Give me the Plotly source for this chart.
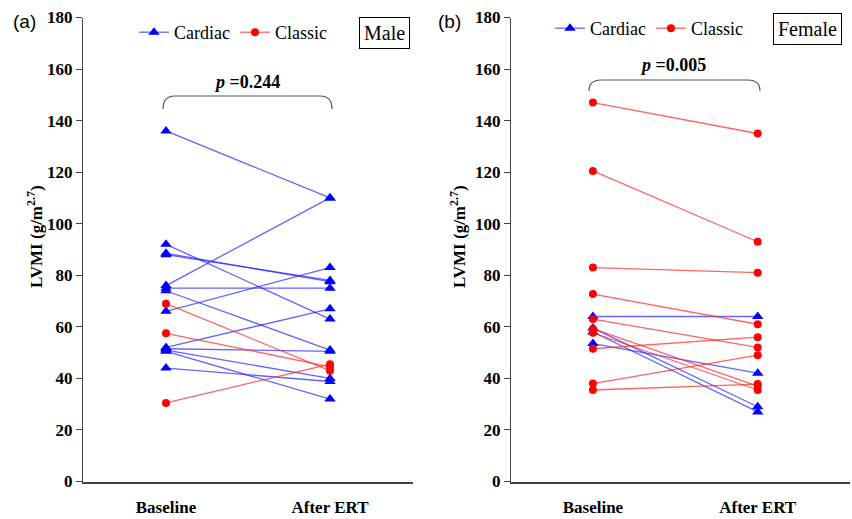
import plotly.graph_objects as go

W, H = 852, 519

stages = ["Baseline", "After ERT"]
y_ticks = [0, 20, 40, 60, 80, 100, 120, 140, 160, 180]

# Panel (a) Male
male_cardiac_baseline = [136, 92, 88.5, 88, 76, 75, 74, 66, 52, 51.5, 51, 50.5, 44]
male_cardiac_after    = [110, 63, 77.5, 78, 110, 75, 51, 83, 67, 50.5, 40, 32, 38.8]
male_classic_baseline = [69, 57.5, 30.5]
male_classic_after    = [43, 44.5, 45.5]

# Panel (b) Female
female_cardiac_baseline = [64, 59.5, 58, 53.5]
female_cardiac_after    = [64, 29, 27, 42]
female_classic_baseline = [147, 120.5, 83, 72.7, 63, 59.3, 57.7, 51.5, 38, 35.5]
female_classic_after    = [135, 93, 81, 61, 52, 37, 35.5, 56, 49, 37.8]

p_male = "0.244"
p_female = "0.005"

SERIF = "Liberation Serif, Times New Roman, serif"
SANS = "Liberation Sans, Arial, sans-serif"
BLUE_LINE = "rgba(40,40,255,0.72)"
RED_LINE = "rgba(255,40,40,0.72)"


def pairs(base, after):
    xs, ys = [], []
    for b, a in zip(base, after):
        xs += [stages[0], stages[1], None]
        ys += [b, a, None]
    return xs, ys


def X(px):
    return px / W


def Y(py):
    return 1 - py / H


fig = go.Figure()

for (cb, ca, rb, ra, xa, ya, lg) in [
    (male_cardiac_baseline, male_cardiac_after, male_classic_baseline, male_classic_after, "x", "y", "legend"),
    (female_cardiac_baseline, female_cardiac_after, female_classic_baseline, female_classic_after, "x2", "y2", "legend2"),
]:
    xs, ys = pairs(cb, ca)
    fig.add_trace(go.Scatter(
        x=xs, y=ys, mode="lines+markers", name="Cardiac",
        line=dict(color=BLUE_LINE, width=1.3),
        marker=dict(symbol="triangle-up", size=10, color="#0000ff"),
        xaxis=xa, yaxis=ya, legend=lg, connectgaps=False))
    xs, ys = pairs(rb, ra)
    fig.add_trace(go.Scatter(
        x=xs, y=ys, mode="lines+markers", name="Classic",
        line=dict(color=RED_LINE, width=1.3),
        marker=dict(symbol="circle", size=8, color="#ff0000"),
        xaxis=xa, yaxis=ya, legend=lg, connectgaps=False))

ydom = [Y(481.5), Y(17.5)]

xcommon = dict(type="category", categoryarray=stages, showline=True, linecolor="#444",
               linewidth=1.5, ticks="", showgrid=False, zeroline=False, automargin=False,
               tickfont=dict(family=SERIF, size=17, color="black", weight="bold"),
               ticklabelstandoff=9)
ycommon = dict(range=[0, 180], tickvals=y_ticks, ticks="outside", ticklen=6, tickcolor="#444",
               showline=True, linecolor="#444", linewidth=1.2, showgrid=False, zeroline=False,
               automargin=False,
               tickfont=dict(family=SERIF, size=17, color="black", weight="bold"), domain=ydom)

fig.update_layout(
    width=W, height=H,
    margin=dict(l=0, r=0, t=0, b=0, autoexpand=False),
    font=dict(family=SERIF, color="black"),
    paper_bgcolor="white", plot_bgcolor="white",
    xaxis=dict(domain=[X(83), X(413)], range=[-0.506, 1.506], anchor="y", **xcommon),
    xaxis2=dict(domain=[X(511), X(850)], range=[-0.497, 1.56], anchor="y2", **xcommon),
    yaxis=dict(anchor="x", **ycommon),
    yaxis2=dict(anchor="x2", **ycommon),
    legend=dict(orientation="h", x=X(134), y=Y(14), xanchor="left", yanchor="top",
                font=dict(family=SERIF, size=18, color="black"), bgcolor="rgba(0,0,0,0)",
                itemwidth=30, tracegroupgap=0),
    legend2=dict(orientation="h", x=X(550), y=Y(10), xanchor="left", yanchor="top",
                 font=dict(family=SERIF, size=18, color="black"), bgcolor="rgba(0,0,0,0)",
                 itemwidth=30, tracegroupgap=0),
    showlegend=True,
)

ann = []


def add_text(text, px, py, font, **kw):
    ann.append(dict(text=text, x=X(px), y=Y(py), xref="paper", yref="paper", showarrow=False,
                    xanchor="center", yanchor="middle", font=font, **kw))


add_text("(a)", 24, 22, dict(family=SANS, size=19, color="black"))
add_text("(b)", 450, 21, dict(family=SANS, size=19, color="black"))
add_text("Male", 384, 33, dict(family=SERIF, size=20, color="black"),
         bordercolor="black", borderwidth=1, borderpad=4)
add_text("Female", 807, 29, dict(family=SERIF, size=20, color="black"),
         bordercolor="black", borderwidth=1, borderpad=4)
add_text("<i>p</i> =" + p_male, 247, 82, dict(family=SERIF, size=18, color="black", weight="bold"))
add_text("<i>p</i> =" + p_female, 673, 65, dict(family=SERIF, size=18, color="black", weight="bold"))
for xp in (35, 458):
    add_text("LVMI (g/m<sup>2.7</sup>)", xp, 237,
             dict(family=SERIF, size=17, color="black", weight="bold"), textangle=-90)
fig.update_layout(annotations=ann)


def bracket(x0, x1, ytop, yend, r=12):
    return (f"M {X(x0)},{Y(yend)} Q {X(x0)},{Y(ytop)} {X(x0 + r)},{Y(ytop)} "
            f"L {X(x1 - r)},{Y(ytop)} Q {X(x1)},{Y(ytop)} {X(x1)},{Y(yend)}")


fig.update_layout(shapes=[
    dict(type="path", path=bracket(163, 332, 96, 109), xref="paper", yref="paper",
         line=dict(color="#555", width=1.2)),
    dict(type="path", path=bracket(589, 760, 80, 91), xref="paper", yref="paper",
         line=dict(color="#555", width=1.2)),
])

fig.write_html("out.html", config={"displayModeBar": False},
               post_script="document.body.style.margin='0px';")
